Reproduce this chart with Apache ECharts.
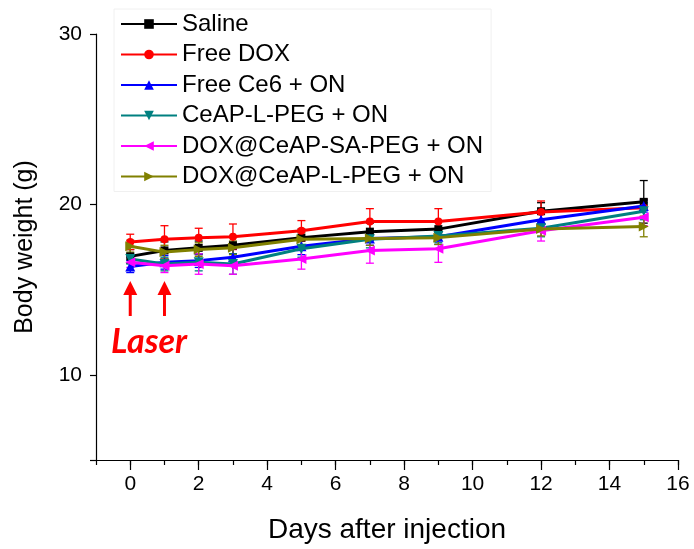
<!DOCTYPE html>
<html><head><meta charset="utf-8">
<script src="https://cdn.jsdelivr.net/npm/echarts@6/dist/echarts.min.js"></script>
<style>html,body{margin:0;padding:0;background:#fff}#c{width:694px;height:549px}</style>
</head><body><div id="c"></div>
<script>
const days = [0, 1, 2, 3, 5, 7, 9, 12, 15];
const seriesNames = ['Saline', 'Free DOX', 'Free Ce6 + ON', 'CeAP-L-PEG + ON', 'DOX@CeAP-SA-PEG + ON', 'DOX@CeAP-L-PEG + ON'];
const saline   = [16.95, 17.3, 17.45, 17.6, 18.05, 18.4, 18.55, 19.6, 20.15];
const freeDox  = [17.8, 17.95, 18.05, 18.1, 18.45, 19.0, 19.0, 19.55, 19.8];
const freeCe6  = [16.35, 16.6, 16.7, 16.9, 17.55, 18.0, 18.1, 19.1, 19.9];
const ceapL    = [16.8, 16.5, 16.6, 16.5, 17.4, 17.95, 18.15, 18.6, 19.6];
const doxSA    = [16.6, 16.4, 16.5, 16.4, 16.8, 17.3, 17.4, 18.45, 19.25];
const doxL     = [17.55, 17.2, 17.35, 17.45, 17.95, 18.0, 18.05, 18.55, 18.7];
const salineErr  = [0.4, 0.5, 0.4, 0.5, 0.5, 0.5, 0.5, 0.5, 1.25];
const freeDoxErr = [0.45, 0.8, 0.55, 0.75, 0.6, 0.75, 0.75, 0.65, 0.5];
const freeCe6Err = [0.35, 0.4, 0.4, 0.5, 0.5, 0.4, 0.45, 0.5, 0.35];
const ceapLErr   = [0.3, 0.4, 0.5, 0.6, 0.5, 0.5, 0.4, 0.5, 0.5];
const doxSAErr   = [0.3, 0.4, 0.6, 0.5, 0.6, 0.75, 0.8, 0.6, 0.5];
const doxLErr    = [0.35, 0.4, 0.4, 0.4, 0.4, 0.4, 0.4, 0.4, 0.6];
const xTickLabels = [0, 2, 4, 6, 8, 10, 12, 14, 16];
const yTickLabels = [10, 20, 30];
const laserDays = [0, 1];

const values = [saline, freeDox, freeCe6, ceapL, doxSA, doxL];
const errs = [salineErr, freeDoxErr, freeCe6Err, ceapLErr, doxSAErr, doxLErr];
const colors = ['#000000', '#ff0000', '#0000ff', '#008080', '#ff00ff', '#808000'];
const symbols = ['rect', 'circle', 'triangle', 'triangle', 'triangle', 'triangle'];
const rotates = [0, 0, 0, 180, 90, -90];
const sizes = [8, 8, 10, 10, 10, 10];
const FONT = '"Liberation Sans", Arial, sans-serif';

const series = [];
values.forEach((vals, i) => {
  series.push({
    type: 'custom', name: seriesNames[i] + ' err', z: 2, silent: true,
    data: days.map((d, j) => [d, vals[j] - errs[i][j], vals[j] + errs[i][j]]),
    renderItem: function (params, api) {
      const lo = api.coord([api.value(0), api.value(1)]);
      const hi = api.coord([api.value(0), api.value(2)]);
      const w = 4;
      const st = { stroke: colors[i], lineWidth: 1.3 };
      return { type: 'group', children: [
        { type: 'line', shape: { x1: lo[0], y1: lo[1], x2: hi[0], y2: hi[1] }, style: st },
        { type: 'line', shape: { x1: lo[0] - w, y1: lo[1], x2: lo[0] + w, y2: lo[1] }, style: st },
        { type: 'line', shape: { x1: hi[0] - w, y1: hi[1], x2: hi[0] + w, y2: hi[1] }, style: st }
      ]};
    }
  });
});
values.forEach((vals, i) => {
  series.push({
    type: 'line', name: seriesNames[i], z: 3 + i,
    data: days.map((d, j) => [d, vals[j]]),
    symbol: symbols[i], symbolRotate: rotates[i], symbolSize: sizes[i], showSymbol: true,
    lineStyle: { color: colors[i], width: 3 },
    itemStyle: { color: colors[i] },
    animation: false
  });
});

const chart = echarts.init(document.getElementById('c'));
chart.setOption({
  animation: false,
  backgroundColor: '#fff',
  grid: { left: 96, right: 16, top: 34, bottom: 86 },
  legend: {
    data: seriesNames, orient: 'vertical', left: 114, top: 9,
    itemWidth: 56, itemHeight: 12, itemGap: 6.5,
    backgroundColor: '#fff', borderColor: '#f0f0f0', borderWidth: 1,
    padding: [3, 8, 3, 6],
    textStyle: { fontFamily: FONT, fontSize: 24, color: '#000' }
  },
  xAxis: [{
    type: 'value', min: -1, max: 16, interval: 1,
    name: 'Days after injection', nameLocation: 'middle', nameGap: 56,
    nameTextStyle: { fontFamily: FONT, fontSize: 28, color: '#000' },
    axisLine: { show: true, onZero: false, lineStyle: { color: '#000', width: 1.2 } },
    axisTick: { show: true, length: 5, lineStyle: { color: '#000', width: 1.2 } },
    axisLabel: { customValues: xTickLabels, fontFamily: FONT, fontSize: 21, color: '#000', margin: 14 },
    splitLine: { show: false }
  }, {
    type: 'value', min: -1, max: 16, position: 'bottom',
    axisLine: { show: false, onZero: false },
    axisTick: { show: true, customValues: xTickLabels, length: 10, lineStyle: { color: '#000', width: 1.2 } },
    axisLabel: { show: false }, splitLine: { show: false }
  }],
  yAxis: {
    type: 'value', min: 5, max: 30,
    name: 'Body weight (g)', nameLocation: 'middle', nameGap: 58,
    nameTextStyle: { fontFamily: FONT, fontSize: 25, color: '#000' },
    axisLine: { show: true, onZero: false, lineStyle: { color: '#000', width: 1.2 } },
    axisTick: { show: true, customValues: [5, 10, 20, 30], length: 6, lineStyle: { color: '#000', width: 1.2 } },
    axisLabel: { customValues: yTickLabels, fontFamily: FONT, fontSize: 21, color: '#000', margin: 14 },
    splitLine: { show: false }
  },
  series: series
});

// Laser annotation anchored to data coordinates
const g = [];
laserDays.forEach(d => {
  const tail = chart.convertToPixel({ gridIndex: 0 }, [d, 13.45]);
  const head = chart.convertToPixel({ gridIndex: 0 }, [d, 15.5]);
  g.push({ type: 'line', shape: { x1: tail[0], y1: tail[1], x2: head[0], y2: head[1] + 10 }, style: { stroke: '#ff0000', lineWidth: 3 } });
  g.push({ type: 'polygon', shape: { points: [[head[0], head[1]], [head[0] - 7, head[1] + 14], [head[0] + 7, head[1] + 14]] }, style: { fill: '#ff0000' } });
});
const lp = chart.convertToPixel({ gridIndex: 0 }, [0.55, 11.95]);
g.push({ type: 'text', x: lp[0], y: lp[1], style: { text: 'Laser', fill: '#ff0000', font: 'italic bold 34px Lato, "Open Sans", sans-serif', align: 'center', verticalAlign: 'middle' } });
chart.setOption({ graphic: g });
</script></body></html>
